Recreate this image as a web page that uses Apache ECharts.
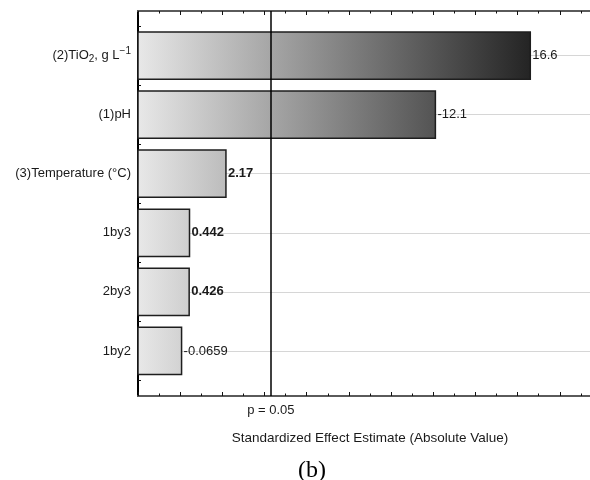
<!DOCTYPE html>
<html>
<head>
<meta charset="utf-8">
<script src="https://cdn.jsdelivr.net/npm/echarts@6/dist/echarts.min.js"></script>
<style>
  html, body { margin: 0; padding: 0; background: #fff; }
  #chart { width: 590px; height: 480px; }
</style>
</head>
<body>
<div id="chart"></div>
<script>
// Pareto chart of standardized effects (absolute value)
const effectNames = ['(2)TiO₂, g L⁻¹', '(1)pH', '(3)Temperature (°C)', '1by3', '2by3', '1by2'];
const effectValues = [16.6, -12.1, 2.17, 0.442, 0.426, -0.0659];
const boldEffects = ['(3)Temperature (°C)', '1by3', '2by3'];
const pCritical = 4.303;
const pLabel = 'p = 0.05';
const axisTitle = 'Standardized Effect Estimate (Absolute Value)';
const caption = '(b)';
const xMin = -2;
const xMax = 20;

const FONT = '"Liberation Sans", Arial, sans-serif';
const maxAbs = Math.max(...effectValues.map(Math.abs));

// Bars start at the left edge of the axis and carry one shared grey ramp
function renderBar(params, api) {
  const idx = api.value(0);
  const v = api.value(1);
  const start = api.coord([xMin, idx]);
  const end = api.coord([v, idx]);
  const h = api.size([0, 1])[1] * 0.8;
  const g0 = start[0];
  const g1 = api.coord([maxAbs, idx])[0];
  const raw = effectValues[params.dataIndex];
  const bold = boldEffects.indexOf(effectNames[params.dataIndex]) >= 0;
  return {
    type: 'group',
    children: [
      {
        type: 'rect',
        shape: { x: start[0], y: start[1] - h / 2, width: end[0] - start[0], height: h },
        style: {
          fill: {
            type: 'linear', global: true, x: g0, y: 0, x2: g1, y2: 0,
            colorStops: [{ offset: 0, color: '#e8e8e8' }, { offset: 1, color: '#242424' }]
          },
          stroke: '#1e1e1e',
          lineWidth: 1.5
        }
      },
      {
        type: 'text',
        x: end[0] + 2,
        y: end[1],
        style: {
          text: String(raw),
          fill: '#1a1a1a',
          font: (bold ? 'bold ' : '') + '13px ' + FONT,
          verticalAlign: 'middle',
          align: 'left'
        }
      }
    ]
  };
}

function categoryLabel(name) {
  return name.replace('₂', '{sub|2}').replace('⁻¹', '{sup|−1}');
}

const frameAxis = {
  gridIndex: 0,
  type: 'value',
  min: xMin,
  max: xMax,
  interval: 2,
  axisLine: { onZero: false, lineStyle: { color: '#5a5a5a', width: 2 } },
  axisTick: { inside: true, length: 4, lineStyle: { color: '#111', width: 1 } },
  minorTick: { show: true, splitNumber: 2, length: 2.5, lineStyle: { color: '#111', width: 1 } },
  axisLabel: { show: false },
  splitLine: { show: false }
};

const chart = echarts.init(document.getElementById('chart'), null, { renderer: 'canvas' });
chart.setOption({
  animation: false,
  backgroundColor: '#ffffff',
  grid: [
    { left: 138, width: 464, top: 11, bottom: 84, outerBoundsMode: 'none', containLabel: false },
    { left: 138, width: 464, top: 26, bottom: 99.5, outerBoundsMode: 'none', containLabel: false }
  ],
  xAxis: [
    Object.assign({}, frameAxis, {
      position: 'bottom',
      name: axisTitle,
      nameLocation: 'middle',
      nameGap: 35,
      nameTextStyle: { color: '#1a1a1a', fontSize: 13.5, fontFamily: FONT }
    }),
    Object.assign({}, frameAxis, { position: 'top' }),
    { gridIndex: 1, type: 'value', min: xMin, max: xMax, show: false }
  ],
  yAxis: [
    {
      gridIndex: 0, type: 'value', min: 0, max: 1,
      axisLine: { show: true, onZero: false, lineStyle: { color: '#000', width: 2 } },
      axisTick: { show: false }, axisLabel: { show: false }, splitLine: { show: false }
    },
    {
      gridIndex: 1, type: 'category', inverse: true, data: effectNames,
      axisLine: { show: false, onZero: false },
      axisTick: { show: true, inside: true, length: 3, lineStyle: { color: '#111' } },
      splitLine: { show: false },
      axisLabel: {
        margin: 7,
        color: '#1a1a1a',
        fontSize: 13,
        fontFamily: FONT,
        lineHeight: 18,
        formatter: categoryLabel,
        rich: {
          sub: { fontSize: 10, fontFamily: FONT, color: '#1a1a1a', verticalAlign: 'bottom', lineHeight: 12 },
          sup: { fontSize: 10, fontFamily: FONT, color: '#1a1a1a', verticalAlign: 'top', lineHeight: 12 }
        }
      }
    },
    {
      gridIndex: 1, type: 'category', inverse: true, data: effectNames,
      axisLine: { show: false, onZero: false },
      axisTick: { show: true, inside: true, alignWithLabel: true, length: 3, lineStyle: { color: '#111' } },
      axisLabel: { show: false },
      splitLine: { show: false }
    }
  ],
  series: [
    {
      type: 'custom',
      xAxisIndex: 2,
      yAxisIndex: 1,
      z: 2,
      renderItem: renderBar,
      encode: { x: 1, y: 0 },
      data: effectValues.map((v, i) => [i, Math.abs(v)]),
      markLine: {
        silent: true,
        z: 1,
        symbol: 'none',
        label: { show: false },
        lineStyle: { color: '#d6d6d6', width: 1, type: 'solid' },
        data: effectNames.map(n => ({ yAxis: n }))
      }
    },
    {
      type: 'line',
      xAxisIndex: 0,
      yAxisIndex: 0,
      data: [],
      markLine: {
        silent: true,
        z: 5,
        symbol: 'none',
        lineStyle: { color: '#000', width: 1.5, type: 'solid' },
        label: {
          show: true,
          position: 'start',
          distance: 8,
          formatter: pLabel,
          color: '#1a1a1a',
          fontSize: 13,
          fontFamily: FONT
        },
        data: [{ xAxis: pCritical }]
      }
    }
  ],
  graphic: [
    {
      type: 'text',
      x: 312,
      y: 471,
      style: {
        text: caption,
        font: '24px "Liberation Serif", "Times New Roman", serif',
        fill: '#000',
        align: 'center',
        verticalAlign: 'middle'
      }
    }
  ]
});
</script>
</body>
</html>
